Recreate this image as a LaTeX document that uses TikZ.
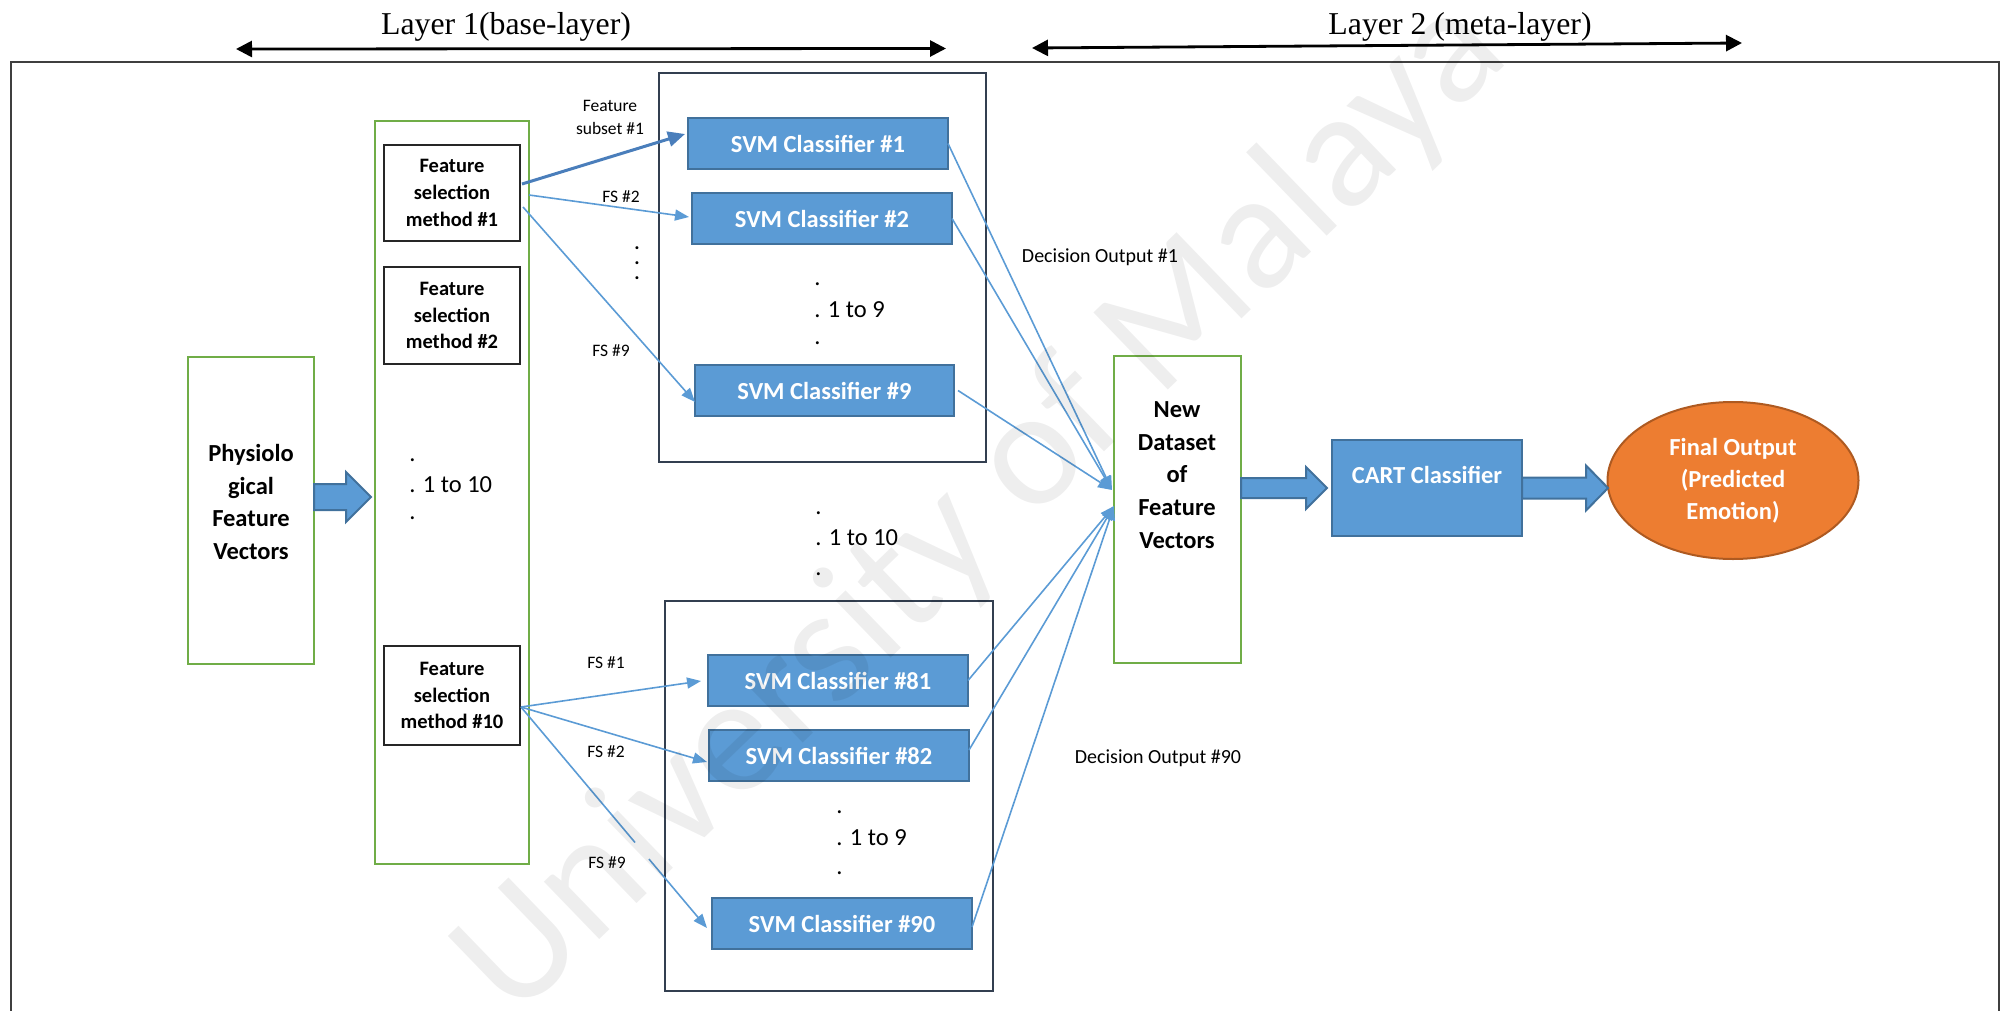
\documentclass[tikz,border=0pt]{standalone}
\usepackage{fontspec}
\setmainfont{Carlito}
\newfontfamily\layerfont{Liberation Serif}
\usetikzlibrary{arrows.meta,calc,shapes.geometric}

\definecolor{svmblue}{HTML}{5B9BD5}
\definecolor{svmedge}{HTML}{41719C}
\definecolor{linkblue}{HTML}{5B9BD5}
\definecolor{subsetblue}{HTML}{4A7EBB}
\definecolor{okgreen}{HTML}{70AD47}
\definecolor{slate}{HTML}{333F50}
\definecolor{outorange}{HTML}{ED7D31}
\definecolor{outedge}{HTML}{AE5A21}
\definecolor{framegray}{HTML}{3F3F3F}
\definecolor{fsedge}{HTML}{262626}

% thick block arrow: tail point, tip point, shaft half-height, head half-height, head length (px)
\newcommand{\fatarrowpath}[5]{%
  \filldraw[fatarrow] let \p1=#1, \p2=#2 in
    (\x1,{\y2+#3*0.5pt}) -- ({\x2-#5*0.5pt},{\y2+#3*0.5pt}) -- ({\x2-#5*0.5pt},{\y2+#4*0.5pt})
    -- (\x2,\y2) -- ({\x2-#5*0.5pt},{\y2-#4*0.5pt}) -- ({\x2-#5*0.5pt},{\y2-#3*0.5pt})
    -- (\x1,{\y2-#3*0.5pt}) -- cycle;}

\begin{document}
\begin{tikzpicture}[
  x=0.5pt, y=-0.5pt,
  box/.style={rectangle, inner sep=0pt, outer sep=0pt},
  svm/.style={box, draw=svmedge, fill=svmblue, line width=1.2pt, minimum width=130pt,
    minimum height=25.5pt, text=white, font=\fontsize{12.25pt}{14pt}\selectfont\bfseries},
  fsbox/.style={box, draw=fsedge, line width=0.55pt, minimum width=68pt, align=center,
    font=\fontsize{10.25pt}{13.3pt}\selectfont\bfseries},
  greenbox/.style={box, draw=okgreen, line width=1pt},
  holder/.style={box, draw=slate, line width=1.1pt, minimum width=164pt, minimum height=195pt},
  bigtxt/.style={align=center, inner sep=0pt, font=\fontsize{12.25pt}{16.4pt}\selectfont\bfseries},
  lbl/.style={inner sep=0pt, align=center, font=\fontsize{8.75pt}{11.5pt}\selectfont},
  decision/.style={inner sep=0pt, font=\fontsize{10pt}{12pt}\selectfont},
  rangetxt/.style={inner sep=0pt, anchor=base west, font=\fontsize{12.25pt}{14pt}\selectfont},
  vdot/.style={inner sep=0pt, font=\fontsize{10pt}{12pt}\selectfont\bfseries},
  conn/.style={draw=linkblue, line width=0.8pt, -{Triangle[length=7pt,width=5.5pt]}},
  fatarrow/.style={fill=svmblue, draw=svmedge, line width=1pt, line join=miter},
  layerarrow/.style={draw=black, line width=1.4pt,
    {Triangle[length=8pt,width=8pt]}-{Triangle[length=8pt,width=8pt]}},
  layertitle/.style={inner sep=0pt, anchor=base, font=\layerfont\fontsize{15.9pt}{18pt}\selectfont},
]
\useasboundingbox (0,0) rectangle (2008,1011);

% outer frame
\draw[framegray, line width=0.8pt] (11,1016) -- (11,62) -- (1999,62) -- (1999,1016);

% layer headings
\node[layertitle] (t1) at (506,35) {Layer 1(base-layer)};
\node[layertitle] (t2) at (1460,35) {Layer 2 (meta-layer)};
\coordinate (l1a) at (236,49);
\coordinate (l1b) at (946,48.5);
\coordinate (l2a) at (1032,48);
\coordinate (l2b) at (1742,43);
\draw[layerarrow] (l1a) -- (l1b);
\draw[layerarrow] (l2a) -- (l2b);

% classifier groups
\node[holder, minimum width=163.5pt, minimum height=194.5pt] (top) at (822.5,267.5) {};
\node[holder] (bot) at (829,796) {};

% input, feature selection column, new dataset
\node[greenbox, minimum width=63pt, minimum height=153.5pt] (phys) at (251,510.5) {};
\node[greenbox, minimum width=77pt, minimum height=371.5pt] (col) at (452,492.5) {};
\node[greenbox, minimum width=63.5pt, minimum height=153.5pt] (data) at (1177.5,509.5) {};
\node[bigtxt] (physT) at (251,502) {Physiolo\\gical\\Feature\\Vectors};
\node[bigtxt] (dataT) at (1177,475) {New\\Dataset\\of\\Feature\\Vectors};

\node[fsbox, minimum height=48pt] (fs1) at (452,193) {Feature\\selection\\method \#1};
\node[fsbox, minimum height=48.5pt] (fs2) at (452,315.5) {Feature\\selection\\method \#2};
\node[fsbox, minimum height=49.5pt] (fs10) at (452,695.5) {Feature\\selection\\method \#10};

\node[rangetxt] (c1) at (409,461) {.};
\node[rangetxt] (c2) at (409,492) {. 1 to 10};
\node[rangetxt] (c3) at (409,519.5) {.};

% SVM classifiers
\node[svm] (s1) at (818,143.5) {SVM Classifier \#1};
\node[svm] (s2) at (822,218.5) {SVM Classifier \#2};
\node[svm, minimum width=129.5pt] (s9) at (824.5,390.5) {SVM Classifier \#9};
\node[svm] (s81) at (838,680.5) {SVM Classifier \#81};
\node[svm] (s82) at (839,755.5) {SVM Classifier \#82};
\node[svm] (s90) at (842,923.5) {SVM Classifier \#90};

\node[rangetxt] (r1) at (814,285.5) {.};
\node[rangetxt] (r2) at (814,317) {. 1 to 9};
\node[rangetxt] (r3) at (814,344.5) {.};
\node[rangetxt] (m1) at (815,514.5) {.};
\node[rangetxt] (m2) at (815,545) {. 1 to 10};
\node[rangetxt] (m3) at (815,575.5) {.};
\node[rangetxt] (q1) at (836,813.5) {.};
\node[rangetxt] (q2) at (836,845) {. 1 to 9};
\node[rangetxt] (q3) at (836,874.5) {.};

\node[vdot] (v1) at (637,248) {.};
\node[vdot] (v2) at (637,263) {.};
\node[vdot] (v3) at (637,278) {.};

% meta classifier and output
\node[box, draw=svmedge, fill=svmblue, line width=1.2pt, minimum width=95pt, minimum height=48pt] (cart) at (1427,488) {};
\node[bigtxt, text=white] (cartT) at (1427,475) {CART Classifier};
\node[ellipse, draw=outedge, fill=outorange, line width=1pt, minimum width=125.5pt, minimum height=78.5pt,
  inner sep=0pt, align=center, text=white, font=\fontsize{12.25pt}{16pt}\selectfont\bfseries]
  (out) at (1733,480.5) {Final Output\\(Predicted\\Emotion)};

% block arrows
\fatarrowpath{(phys.east)}{($(col.west)+(-4,4.5)$)}{13}{25}{25}
\fatarrowpath{(data.east)}{($(cart.west)+(-5,0)$)}{10}{21}{21}
\fatarrowpath{(cart.east)}{($(out.west)+(1.5,7.5)$)}{10.5}{22.5}{22}

% feature subsets into the first group
\draw[conn, draw=subsetblue, line width=1.5pt, -{Triangle[length=8.5pt,width=7.5pt]}]
  ($(fs1.east)+(2,-9)$) -- ($(s1.west)+(-3,-9.5)$);
\draw[conn] ($(fs1.east)+(9,2)$) -- ($(s2.west)+(-3,-1.5)$);
\draw[conn] ($(fs1.east)+(3,14)$) -- ($(s9.west)+(0,11.5)$);

% feature subsets into the last group
\coordinate (f10o) at ($(fs10.east)+(1,11.5)$);
\coordinate (f10e) at ($(s90.west)+(-5,4.5)$);
\draw[conn] (f10o) -- ($(s81.west)+(-7,0.5)$);
\draw[conn] (f10o) -- ($(s82.west)+(-2,6.5)$);
\draw[conn, -] (f10o) -- ($(f10o)!0.613!(f10e)$);
\draw[conn] ($(f10o)!0.688!(f10e)$) -- (f10e);

% decision outputs into the new dataset
\coordinate (inU) at ($(data.west)+(-2,-19.5)$);
\coordinate (inL) at ($(data.west)+(0,-3.5)$);
\draw[conn] (s1.east) -- (inU);
\draw[conn] (s2.east) -- (inU);
\draw[conn] ($(s9.east)+(4,0)$) -- (inU);
\draw[conn] (s81.east) -- (inL);
\draw[conn] ($(s82.east)+(0,-5.5)$) -- (inL);
\draw[conn] ($(s90.east)+(0,3.5)$) -- (inL);

% labels
\node[lbl] (sub1) at (610,117.5) {Feature\\subset \#1};
\node[lbl] (fsa2) at (621,197) {FS \#2};
\node[lbl] (fsa9) at (611,351) {FS \#9};
\node[lbl] (fsb1) at (606,663) {FS \#1};
\node[lbl] (fsb2) at (606,752) {FS \#2};
\node[lbl] (fsb9) at (607,863) {FS \#9};
\node[decision] (d1) at (1100,257) {Decision Output \#1};
\node[decision] (d90) at (1158,758) {Decision Output \#90};

% watermark
\node[rotate=44, anchor=base, inner sep=0pt, text=black, text opacity=0.065,
  font=\fontsize{83.5pt}{90pt}\selectfont] (wm) at (1013,540) {University of Malaya};
\end{tikzpicture}
\end{document}
